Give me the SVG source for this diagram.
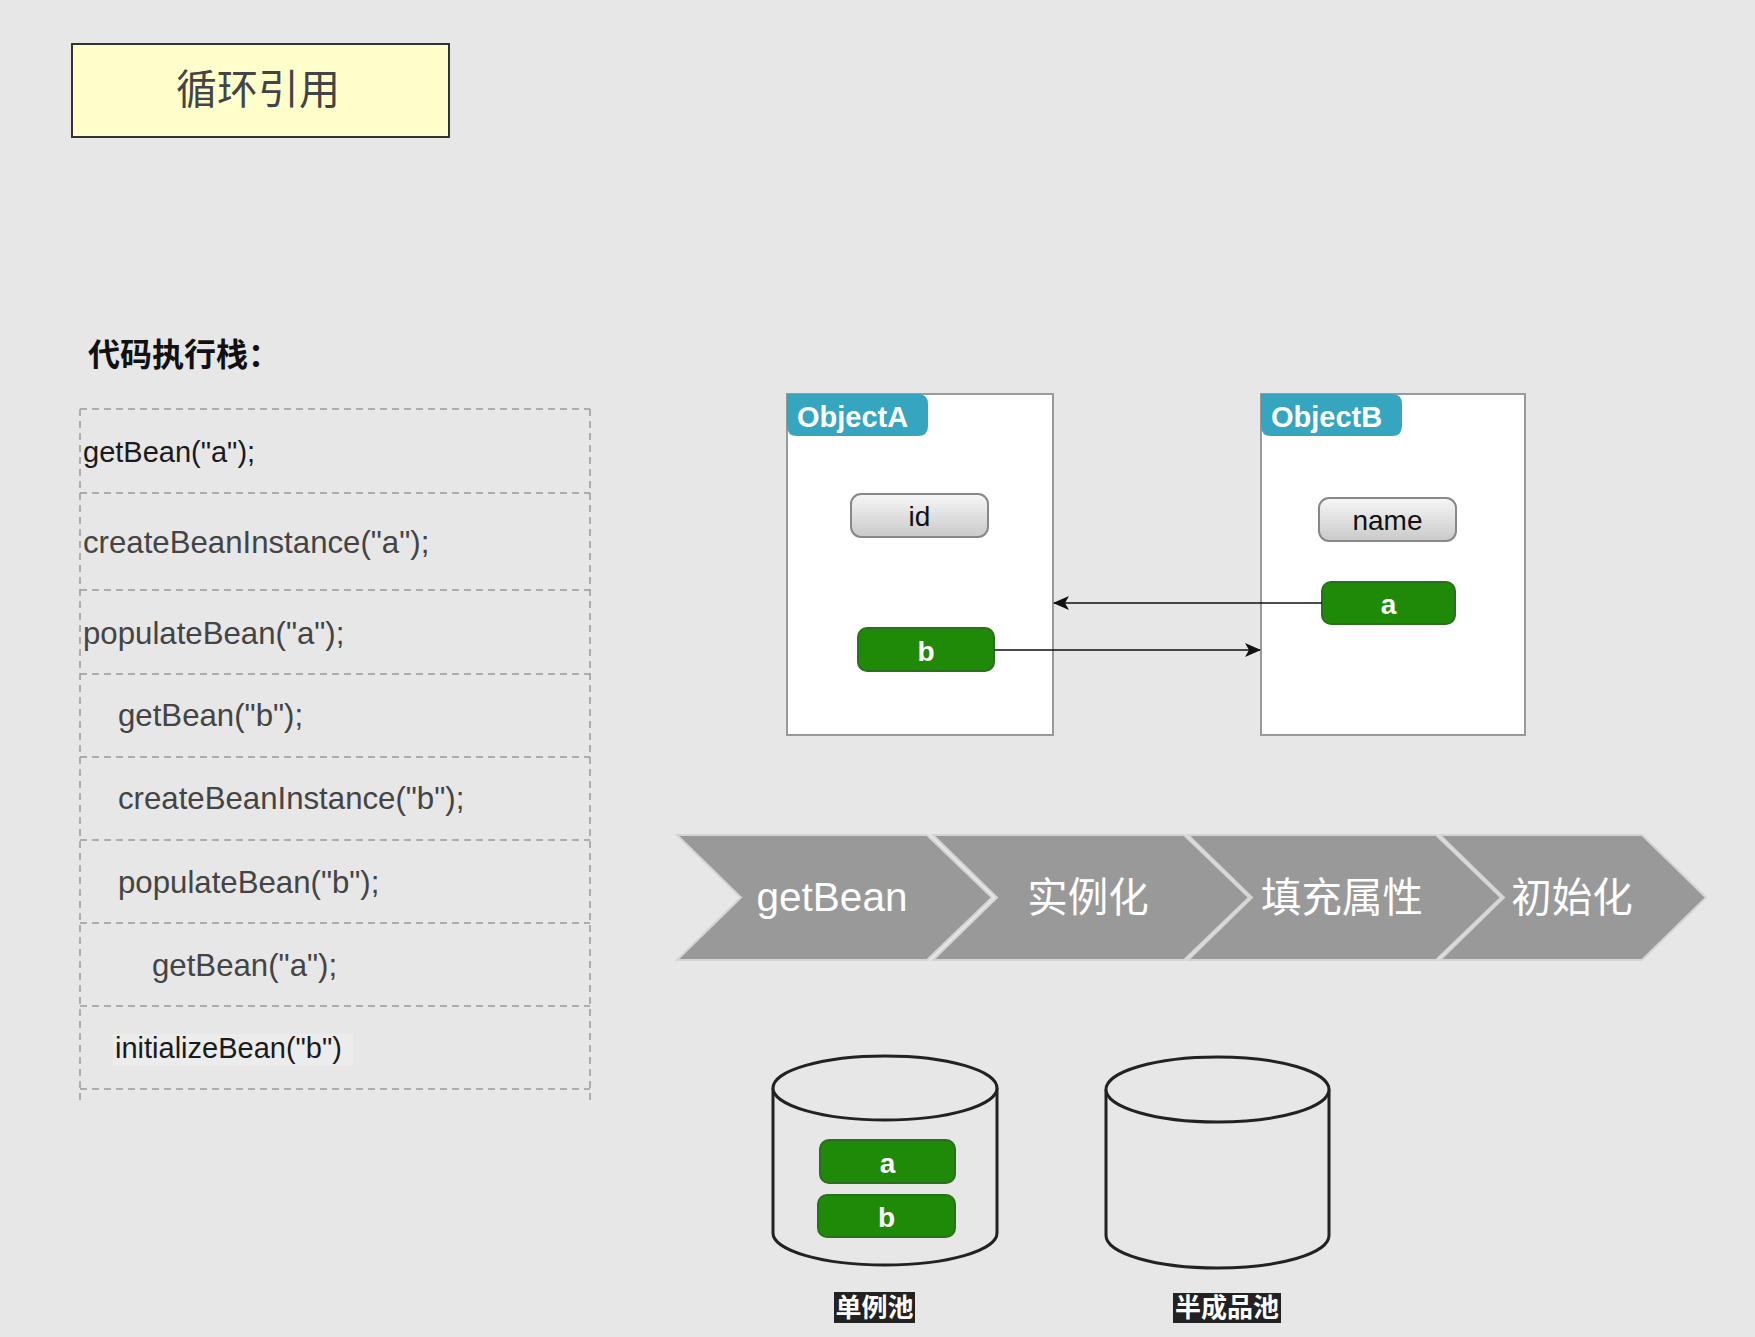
<svg xmlns="http://www.w3.org/2000/svg" width="1755" height="1337" viewBox="0 0 1755 1337">
<defs>
<linearGradient id="gray" x1="0" y1="0" x2="0" y2="1">
<stop offset="0" stop-color="#f7f7f7"/><stop offset="1" stop-color="#c9c9c9"/>
</linearGradient>
<marker id="arr" markerWidth="16" markerHeight="14" refX="15" refY="7" orient="auto" markerUnits="userSpaceOnUse">
<path d="M0,0 L16,7 L0,14 L4,7 Z" fill="#111"/>
</marker>
<style>
.code{font-family:"Liberation Sans",Arial,sans-serif;font-size:31.2px;fill:#444}
.code2{font-family:"Liberation Sans",Arial,sans-serif;font-size:29px;fill:#1a1a1a}
.dash{stroke:#9a9a9a;stroke-width:1.5;stroke-dasharray:7 5;fill:none}
.obj{fill:#fff;stroke:#999;stroke-width:2}
.tag{fill:#36a5bf}
.tagt{font-family:"Liberation Sans",Arial,sans-serif;font-weight:bold;font-size:29px;fill:#fff}
.pill{fill:url(#gray);stroke:#888;stroke-width:2}
.pillt{font-family:"Liberation Sans",Arial,sans-serif;font-size:28px;fill:#111;text-anchor:middle}
.green{fill:#1f8a08;stroke:#2b6e1c;stroke-width:2}
.greent{font-family:"Liberation Sans",Arial,sans-serif;font-weight:bold;font-size:28px;fill:#fff;text-anchor:middle}
.chev{fill:#999;stroke:#d4d4d4;stroke-width:2}
.chevt{font-family:"Liberation Sans","Noto Sans CJK SC",sans-serif;font-size:40.5px;fill:#fff;text-anchor:middle}
.cyl{fill:#e7e7e7;stroke:#222;stroke-width:3}
.lbl{font-family:"Noto Sans CJK SC",sans-serif;font-size:26px;font-weight:bold;fill:#fff;text-anchor:middle}
.conn{stroke:#111;stroke-width:1.6;fill:none}
</style>
</defs>
<rect width="1755" height="1337" fill="#e7e7e7"/>

<g id="title">
<rect x="72" y="44" width="377" height="93" fill="#ffffcc" stroke="#333" stroke-width="2"/>
<text x="258" y="104" font-family="Noto Sans CJK SC,sans-serif" font-size="41" fill="#444" text-anchor="middle">循环引用</text>
</g>

<g id="stack-heading">
<text x="88" y="366" font-family="Noto Sans CJK SC,sans-serif" font-size="32" font-weight="bold" fill="#111">代码执行栈：</text>
</g>

<g id="stack">
<line class="dash" x1="80" y1="409" x2="80" y2="1100"/>
<line class="dash" x1="590" y1="409" x2="590" y2="1100"/>
<line class="dash" x1="80" y1="409" x2="590" y2="409"/>
<line class="dash" x1="80" y1="493" x2="590" y2="493"/>
<line class="dash" x1="80" y1="590" x2="590" y2="590"/>
<line class="dash" x1="80" y1="674" x2="590" y2="674"/>
<line class="dash" x1="80" y1="757" x2="590" y2="757"/>
<line class="dash" x1="80" y1="840" x2="590" y2="840"/>
<line class="dash" x1="80" y1="923" x2="590" y2="923"/>
<line class="dash" x1="80" y1="1006" x2="590" y2="1006"/>
<line class="dash" x1="80" y1="1089" x2="590" y2="1089"/>
<rect x="113" y="1034" width="240" height="32" fill="#ececec"/>
<text class="code2" x="83" y="462">getBean("a");</text>
<text class="code" x="83" y="553">createBeanInstance("a");</text>
<text class="code" x="83" y="644">populateBean("a");</text>
<text class="code" x="118" y="726">getBean("b");</text>
<text class="code" x="118" y="809">createBeanInstance("b");</text>
<text class="code" x="118" y="893">populateBean("b");</text>
<text class="code" x="152" y="976">getBean("a");</text>
<text class="code2" x="115" y="1058">initializeBean("b")</text>
</g>

<g id="objectA">
<rect class="obj" x="787" y="394" width="266" height="341"/>
<path class="tag" d="M787,394 H918 Q928,394 928,404 V426 Q928,436 918,436 H797 Q787,436 787,426 Z"/>
<text class="tagt" x="797" y="427">ObjectA</text>
<rect class="pill" x="851" y="494" width="137" height="43" rx="10"/>
<text class="pillt" x="919.5" y="526">id</text>
<rect class="green" x="858" y="628" width="136" height="43" rx="9"/>
<text class="greent" x="926" y="661">b</text>
</g>

<g id="objectB">
<rect class="obj" x="1261" y="394" width="264" height="341"/>
<path class="tag" d="M1261,394 H1392 Q1402,394 1402,404 V426 Q1402,436 1392,436 H1271 Q1261,436 1261,426 Z"/>
<text class="tagt" x="1271" y="427">ObjectB</text>
<rect class="pill" x="1319" y="498" width="137" height="43" rx="10"/>
<text class="pillt" x="1387.5" y="530">name</text>
<rect class="green" x="1322" y="582" width="133" height="42" rx="9"/>
<text class="greent" x="1388.5" y="614">a</text>
</g>

<g id="connectors">
<line class="conn" x1="1322" y1="603" x2="1054" y2="603" marker-end="url(#arr)"/>
<line class="conn" x1="994" y1="650" x2="1260" y2="650" marker-end="url(#arr)"/>
</g>

<g id="process">
<path class="chev" d="M677,835 H927 L992,897.5 L927,960 H677 L741,897.5 Z"/>
<path class="chev" d="M933,835 H1184 L1249,897.5 L1184,960 H933 L997,897.5 Z"/>
<path class="chev" d="M1188,835 H1436 L1501,897.5 L1436,960 H1188 L1252,897.5 Z"/>
<path class="chev" d="M1440,835 H1642 L1706,897.5 L1642,960 H1440 L1504,897.5 Z"/>
<text class="chevt" x="832" y="911">getBean</text>
<text class="chevt" x="1088" y="912">实例化</text>
<text class="chevt" x="1342" y="912">填充属性</text>
<text class="chevt" x="1572" y="912">初始化</text>
</g>

<g id="singleton-pool">
<path class="cyl" d="M773,1088 V1233 A112,32 0 0 0 997,1233 V1088"/>
<ellipse class="cyl" cx="885" cy="1088" rx="112" ry="32"/>
<rect class="green" x="820" y="1140" width="135" height="43" rx="9"/>
<text class="greent" x="887.5" y="1173">a</text>
<rect class="green" x="818" y="1195" width="137" height="42" rx="9"/>
<text class="greent" x="886.5" y="1227">b</text>
<rect x="834" y="1292" width="81" height="31" fill="#222"/>
<text class="lbl" x="874.5" y="1317">单例池</text>
</g>

<g id="half-pool">
<path class="cyl" d="M1106,1089.5 V1235.5 A111.5,32.5 0 0 0 1329,1235.5 V1089.5"/>
<ellipse class="cyl" cx="1217.5" cy="1089.5" rx="111.5" ry="32.5"/>
<rect x="1173" y="1293" width="108" height="30" fill="#222"/>
<text class="lbl" x="1227" y="1317">半成品池</text>
</g>
</svg>
